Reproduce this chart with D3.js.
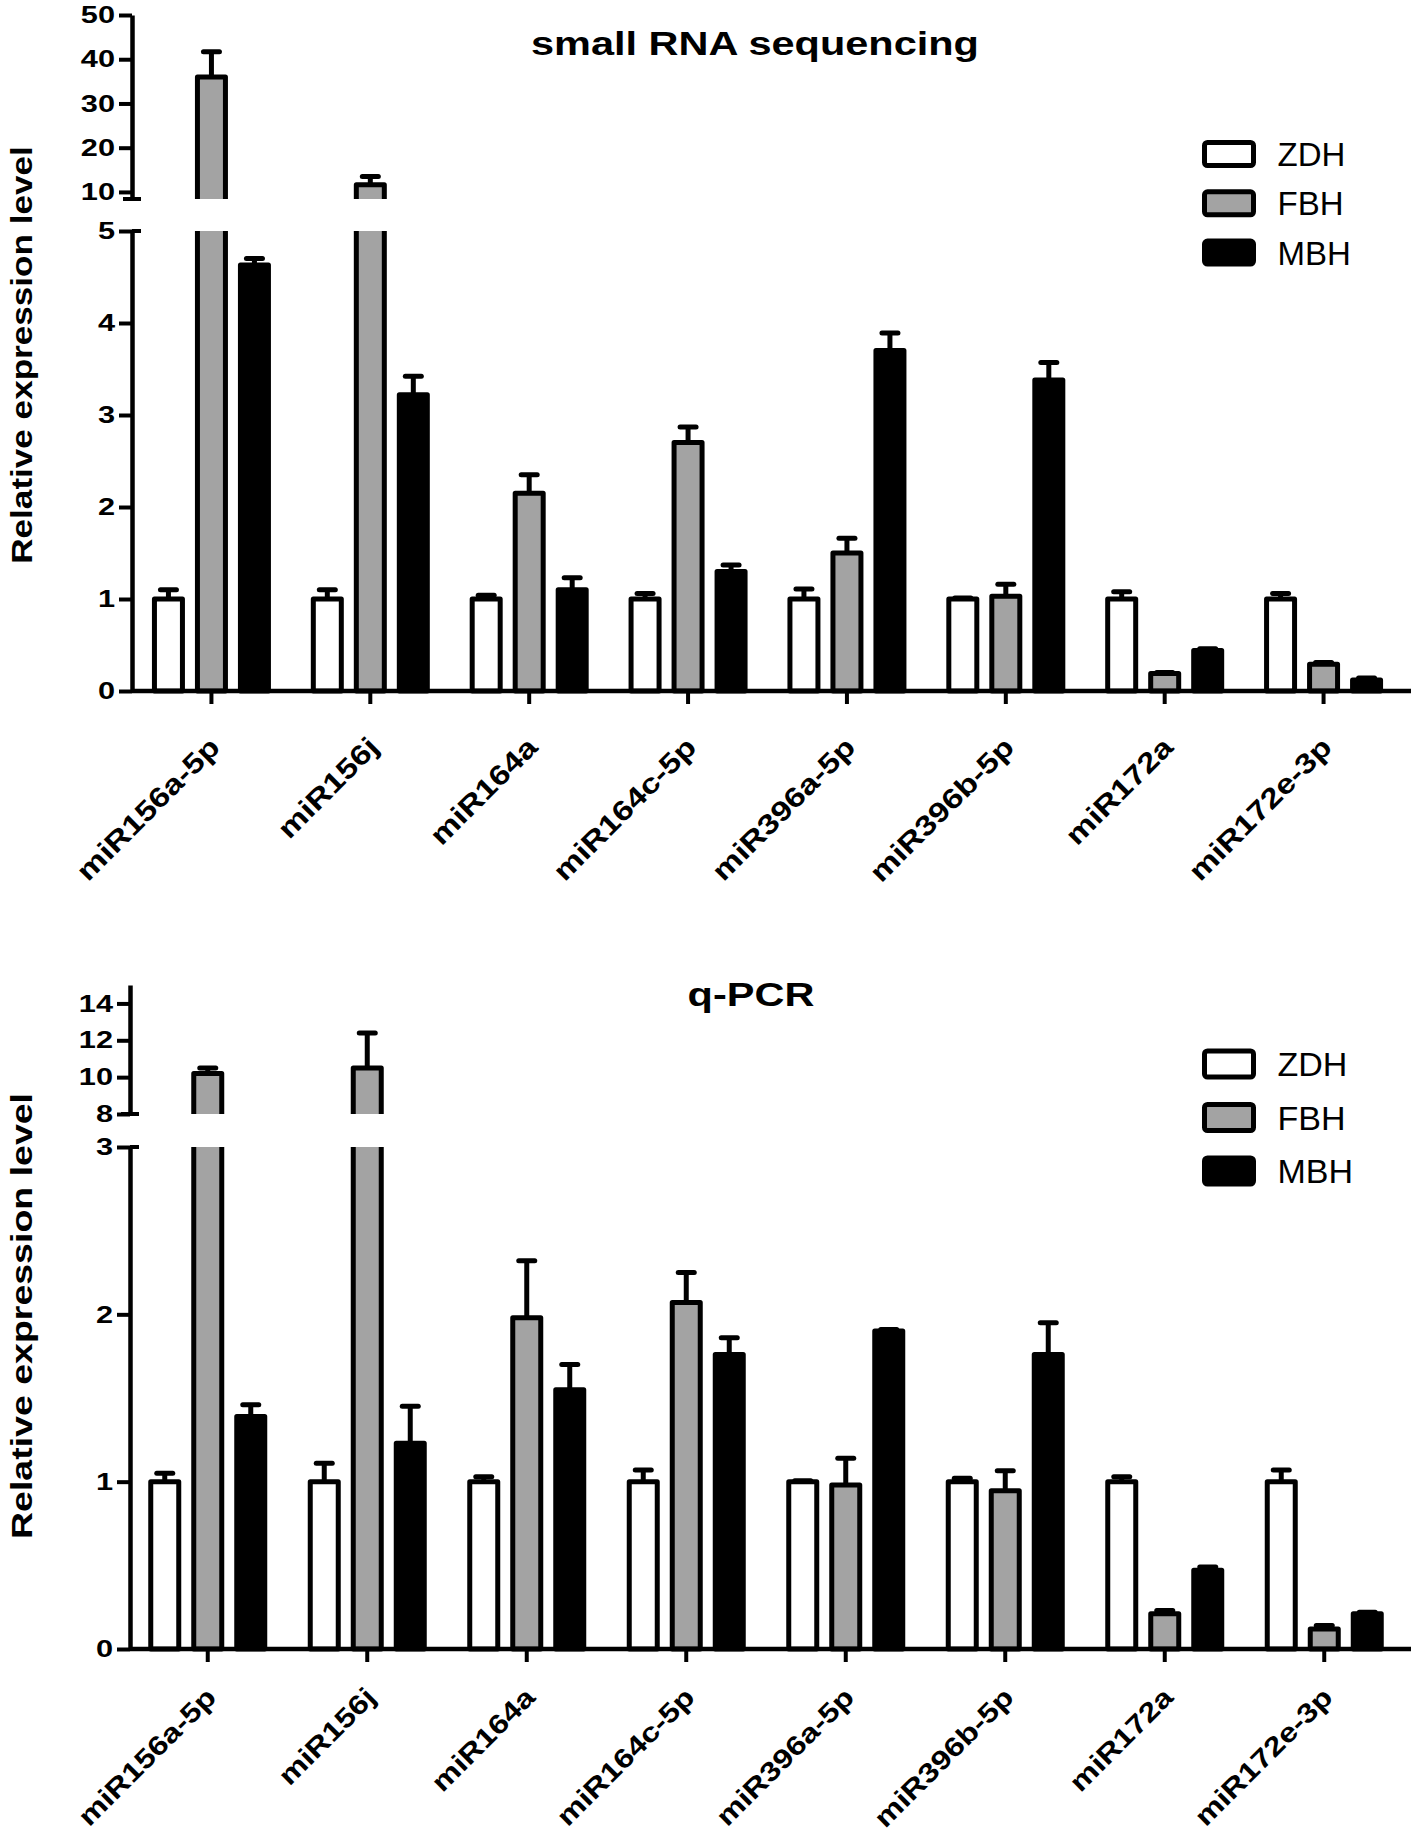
<!DOCTYPE html>
<html>
<head>
<meta charset="utf-8">
<title>miRNA relative expression</title>
<script src="https://cdn.jsdelivr.net/npm/d3@7"></script>
<style>
  body { margin: 0; background: #fff; }
  svg text { font-family: "Liberation Sans", Arial, sans-serif; fill: #000; }
</style>
</head>
<body>
<script>
var categories = ["miR156a-5p", "miR156j", "miR164a", "miR164c-5p", "miR396a-5p", "miR396b-5p", "miR172a", "miR172e-3p"];
var groups = ["ZDH", "FBH", "MBH"];

// small RNA sequencing
var seqZDH    = [1, 1, 1, 1, 1, 1, 1, 1];
var seqZDHErr = [0.10, 0.10, 0.04, 0.06, 0.11, 0.01, 0.08, 0.06];
var seqFBH    = [36.0, 11.6, 2.15, 2.70, 1.50, 1.03, 0.19, 0.29];
var seqFBHErr = [5.7, 1.9, 0.20, 0.17, 0.16, 0.13, 0.01, 0.02];
var seqMBH    = [4.63, 3.22, 1.10, 1.30, 3.70, 3.38, 0.44, 0.12];
var seqMBHErr = [0.07, 0.20, 0.13, 0.07, 0.19, 0.19, 0.02, 0.02];

// q-PCR
var pcrZDH    = [1, 1, 1, 1, 1, 1, 1, 1];
var pcrZDHErr = [0.05, 0.11, 0.03, 0.07, 0.005, 0.02, 0.03, 0.07];
var pcrFBH    = [10.2, 10.5, 1.98, 2.07, 0.98, 0.945, 0.21, 0.12];
var pcrFBHErr = [0.3, 1.9, 0.34, 0.18, 0.16, 0.12, 0.02, 0.02];
var pcrMBH    = [1.39, 1.23, 1.55, 1.76, 1.90, 1.76, 0.47, 0.21];
var pcrMBHErr = [0.07, 0.22, 0.15, 0.10, 0.01, 0.19, 0.02, 0.01];

var seqTicksLow  = [0, 1, 2, 3, 4, 5];
var seqTicksHigh = [10, 20, 30, 40, 50];
var pcrTicksLow  = [0, 1, 2, 3];
var pcrTicksHigh = [8, 10, 12, 14];

var fills = {ZDH: "#ffffff", FBH: "#a3a3a3", MBH: "#000000"};

var svg = d3.select("body").append("svg")
    .attr("width", 1418)
    .attr("height", 1841);

// stretch text along its baseline (the figure's lettering is wider than Arial)
function stretch(sel, k) {
  sel.each(function() {
    var w = this.getComputedTextLength();
    d3.select(this).attr("textLength", w * k).attr("lengthAdjust", "spacingAndGlyphs");
  });
}

function drawPanel(p) {
  var g = svg.append("g");

  var x = d3.scaleBand().domain(categories).range([p.xLeft, p.xRight]);
  var xSub = d3.scaleBand().domain(groups).range([-64.5, 64.5]);
  var yLow = d3.scaleLinear().domain([0, p.lowMax]).range([p.yZero, p.yLowTop]);
  var yHigh = d3.scaleLinear().domain([p.highMin, p.highMax]).range([p.yHighBottom, p.yHighTop]);
  var barW = 28;

  var defs = g.append("defs");
  defs.append("clipPath").attr("id", p.id + "-low")
    .append("rect").attr("x", 0).attr("width", 1418)
    .attr("y", yLow(p.lowMax)).attr("height", yLow(0) - yLow(p.lowMax) + 20);
  defs.append("clipPath").attr("id", p.id + "-high")
    .append("rect").attr("x", 0).attr("width", 1418)
    .attr("y", 0).attr("height", yHigh(p.highMin));

  var rows = [];
  categories.forEach(function(c, i) {
    groups.forEach(function(gr, j) {
      rows.push({cat: c, group: gr, v: p.values[j][i], e: p.errors[j][i]});
    });
  });
  function cx(d) { return x(d.cat) + x.bandwidth() / 2 + xSub(d.group) + xSub.bandwidth() / 2; }

  // mode: "low" = bar fits low segment, "cut" = bar runs through low segment, "high" = top part of a tall bar
  function drawLayer(parent, data, y, mode) {
    var layer = parent.append("g");
    if (mode !== "cut") {
      var err = layer.selectAll("g").data(data).enter().append("g");
      err.append("line")
        .attr("x1", cx).attr("x2", cx)
        .attr("y1", function(d) { return y(d.v); })
        .attr("y2", function(d) { return y(d.v + d.e); })
        .attr("stroke", "#000").attr("stroke-width", 5);
      err.append("line")
        .attr("x1", function(d) { return cx(d) - 8; })
        .attr("x2", function(d) { return cx(d) + 8; })
        .attr("y1", function(d) { return y(d.v + d.e); })
        .attr("y2", function(d) { return y(d.v + d.e); })
        .attr("stroke", "#000").attr("stroke-width", 5).attr("stroke-linecap", "round");
    }
    function top(d) { return mode === "cut" ? y(p.lowMax) - 20 : y(d.v); }
    function bottom() { return mode === "high" ? y(p.highMin) + 20 : y(0); }
    layer.selectAll("rect").data(data).enter().append("rect")
      .attr("x", function(d) { return cx(d) - barW / 2; })
      .attr("width", barW)
      .attr("y", top)
      .attr("height", function(d) { return bottom() - top(d); })
      .attr("fill", function(d) { return fills[d.group]; })
      .attr("stroke", "#000").attr("stroke-width", 5).attr("stroke-linejoin", "round");
  }

  var tall = rows.filter(function(d) { return d.v > p.lowMax; });
  var low = g.append("g").attr("clip-path", "url(#" + p.id + "-low)");
  drawLayer(low, rows.filter(function(d) { return d.v <= p.lowMax; }), yLow, "low");
  drawLayer(low, tall, yLow, "cut");
  var high = g.append("g").attr("clip-path", "url(#" + p.id + "-high)");
  drawLayer(high, tall, yHigh, "high");

  // x axis
  var xAxis = g.append("g")
    .attr("transform", "translate(0," + p.yZero + ")")
    .call(d3.axisBottom(x).tickSize(13).tickSizeOuter(0));
  xAxis.select(".domain").remove();
  xAxis.append("line")
    .attr("x1", p.yAxisX).attr("x2", p.xEnd)
    .attr("stroke", "#000").attr("stroke-width", 4.5);
  xAxis.selectAll(".tick line").attr("stroke", "#000").attr("stroke-width", 4);
  xAxis.selectAll(".tick text")
    .attr("x", 0).attr("y", 0).attr("dy", 0)
    .attr("text-anchor", "end")
    .attr("transform", "translate(10," + p.catDy + ") rotate(-45)")
    .style("font-size", p.catFont + "px").style("font-weight", "bold")
    .call(stretch, 1.2);

  // y axis, two segments
  [[yLow, p.ticksLow], [yHigh, p.ticksHigh]].forEach(function(s) {
    var ax = g.append("g")
      .attr("transform", "translate(" + p.yAxisX + ",0)")
      .call(d3.axisLeft(s[0]).tickValues(s[1]).tickFormat(d3.format("d"))
        .tickSize(13).tickSizeOuter(0).tickPadding(4));
    ax.select(".domain").attr("stroke", "#000").attr("stroke-width", 4.5);
    ax.selectAll(".tick line").attr("stroke", "#000").attr("stroke-width", 4);
    ax.selectAll(".tick text")
      .style("font-size", "24px").style("font-weight", "bold")
      .call(stretch, 1.28);
  });
  // break caps
  g.append("line")
    .attr("x1", p.yAxisX).attr("x2", p.yAxisX + 9)
    .attr("y1", yLow(p.lowMax)).attr("y2", yLow(p.lowMax))
    .attr("stroke", "#000").attr("stroke-width", 4);
  g.append("line")
    .attr("x1", p.yAxisX - 9).attr("x2", p.yAxisX + 9)
    .attr("y1", yHigh(p.highMin)).attr("y2", yHigh(p.highMin))
    .attr("stroke", "#000").attr("stroke-width", 4);

  // title
  g.append("text")
    .attr("x", p.titleX).attr("y", p.titleY)
    .attr("text-anchor", "middle")
    .style("font-size", "34px").style("font-weight", "bold")
    .text(p.title)
    .call(stretch, 1.22);

  // y label
  g.append("text")
    .attr("transform", "translate(32," + p.labelY + ") rotate(-90)")
    .attr("text-anchor", "middle")
    .style("font-size", "30px").style("font-weight", "bold")
    .text("Relative expression level")
    .call(stretch, p.labelK);

  // legend
  var leg = g.selectAll(".legend").data(groups).enter().append("g")
    .attr("transform", function(d, i) { return "translate(1204.5," + (p.legendY + i * p.legendPitch) + ")"; });
  leg.append("rect")
    .attr("x", 0).attr("y", -p.legendBox / 2)
    .attr("width", 49).attr("height", p.legendBox)
    .attr("rx", 3)
    .attr("fill", function(d) { return fills[d]; })
    .attr("stroke", "#000").attr("stroke-width", 5);
  leg.append("text")
    .attr("x", 73).attr("y", 12)
    .style("font-size", p.legendFont + "px")
    .text(function(d) { return d; });
}

drawPanel({
  id: "seq", title: "small RNA sequencing", titleX: 755, titleY: 55,
  values: [seqZDH, seqFBH, seqMBH], errors: [seqZDHErr, seqFBHErr, seqMBHErr],
  ticksLow: seqTicksLow, ticksHigh: seqTicksHigh,
  xLeft: 132, xRight: 1403, xEnd: 1411, yAxisX: 132,
  yZero: 691, yLowTop: 231, lowMax: 5,
  highMin: 8.4, highMax: 50, yHighBottom: 199, yHighTop: 15,
  catDy: 58, catFont: 28,
  labelY: 355, labelK: 1.17,
  legendY: 154, legendPitch: 49.3, legendBox: 23, legendFont: 33
});

drawPanel({
  id: "pcr", title: "q-PCR", titleX: 751, titleY: 1006,
  values: [pcrZDH, pcrFBH, pcrMBH], errors: [pcrZDHErr, pcrFBHErr, pcrMBHErr],
  ticksLow: pcrTicksLow, ticksHigh: pcrTicksHigh,
  xLeft: 128, xRight: 1404, xEnd: 1411, yAxisX: 130,
  yZero: 1649, yLowTop: 1147, lowMax: 3,
  highMin: 8, highMax: 15, yHighBottom: 1114, yHighTop: 985,
  catDy: 50, catFont: 27,
  labelY: 1316, labelK: 1.25,
  legendY: 1064, legendPitch: 53.5, legendBox: 26, legendFont: 34
});
</script>
</body>
</html>
